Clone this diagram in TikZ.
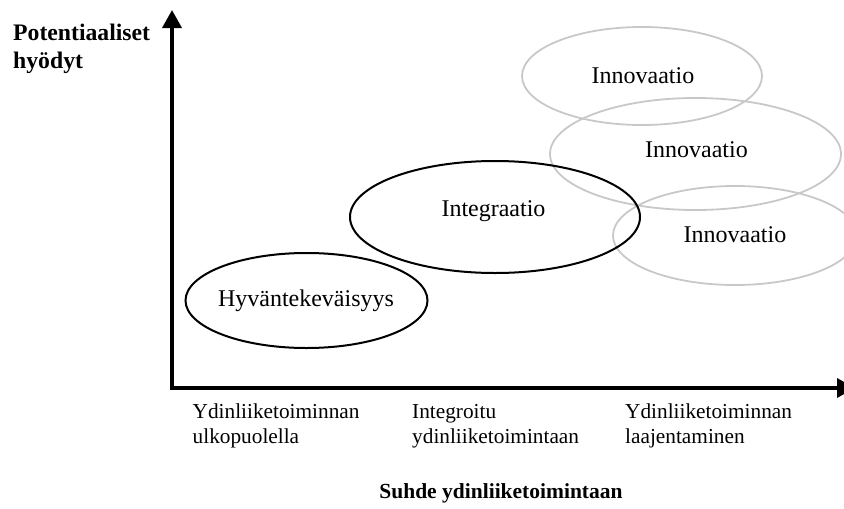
\documentclass[tikz,border=0pt]{standalone}
\usepackage{fontspec}
\setmainfont{Liberation Serif}
\usetikzlibrary{arrows.meta,shapes.geometric}
\definecolor{ringgray}{RGB}{200,200,200}
\begin{document}
\begin{tikzpicture}[x=1pt,y=-1pt,
  axisline/.style={line width=3.5pt, line join=miter,
    {Triangle[length=18pt,width=19pt]}-{Triangle[length=18pt,width=19pt]}},
  area/.style={ellipse, draw=black, line width=2pt, inner sep=0pt},
  newarea/.style={ellipse, draw=ringgray, line width=1.8pt, inner sep=0pt},
  arealbl/.style={font=\fontsize{24}{28}\selectfont, inner sep=0pt, anchor=base},
  % multi-line nodes: the base anchor sits on the last line
  axlbl/.style={font=\fontsize{21.3}{25}\selectfont, inner sep=0pt, align=left, anchor=base west},
  axtitle/.style={font=\bfseries\fontsize{23.7}{28}\selectfont, inner sep=0pt, align=left, anchor=base west},
]
\useasboundingbox (0,0) rectangle (844,509);
\clip (0,0) rectangle (844,509);

% innovation areas (light grey)
\node[newarea, minimum width=240pt, minimum height=98pt]  (inn1) at (642,76)    {};
\node[newarea, minimum width=291pt, minimum height=112pt] (inn2) at (695.5,154) {};
\node[newarea, minimum width=244pt, minimum height=99pt]  (inn3) at (735,235.5) {};

% charity and integration areas
\node[area, minimum width=242pt, minimum height=95pt]  (hyv) at (306.5,300.5) {};
\node[area, minimum width=290pt, minimum height=112pt] (int) at (495,217)     {};

\node[arealbl] (tinn1) at (643,83)    {Innovaatio};
\node[arealbl] (tinn2) at (696.5,157) {Innovaatio};
\node[arealbl] (tinn3) at (735,242)   {Innovaatio};
\node[arealbl] (thyv)  at (306,306.7) {Hyväntekeväisyys};
\node[arealbl] (tint)  at (493.5,216.7) {Integraatio};

% axes
\coordinate (orig) at (172,388);
\coordinate (ytip) at (172,10);
\coordinate (xtip) at (855,388);
\draw[axisline] (ytip) -- (orig) -- (xtip);

% axis texts
\node[axtitle] (ytitle) at (13,68) {Potentiaaliset\\hyödyt};
\node[axlbl] (x1) at (192.5,443) {Ydinliiketoiminnan\\ulkopuolella};
\node[axlbl] (x2) at (412,443)   {Integroitu\\ydinliiketoimintaan};
\node[axlbl] (x3) at (625,443)   {Ydinliiketoiminnan\\laajentaminen};
\node[font=\bfseries\fontsize{21.5}{26}\selectfont, inner sep=0pt, anchor=base] (xtitle) at (501,498) {Suhde ydinliiketoimintaan};
\end{tikzpicture}
\end{document}
